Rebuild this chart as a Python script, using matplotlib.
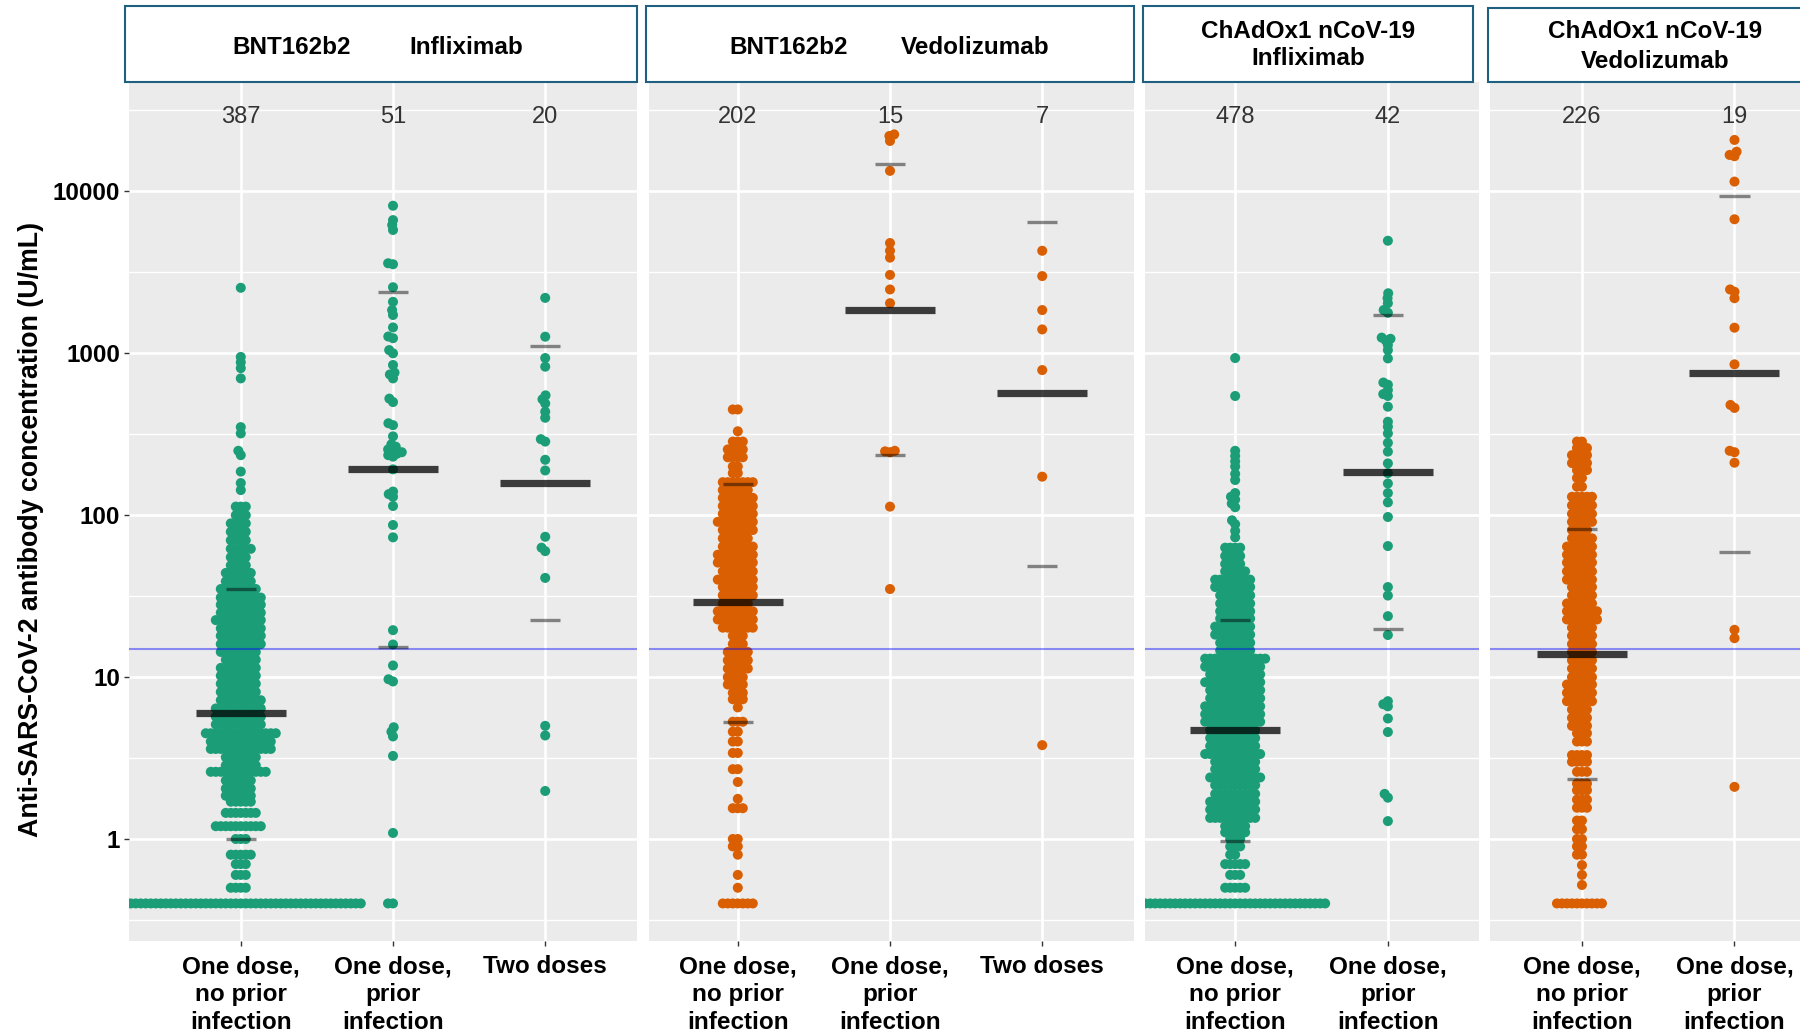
import numpy as np
import matplotlib
matplotlib.use("Agg")
import matplotlib.pyplot as plt
from matplotlib.patches import Rectangle
from matplotlib.ticker import FixedLocator, NullFormatter

plt.rcParams['font.family'] = ['Liberation Sans', 'DejaVu Sans']

# ---------------- data ----------------
VACCINES = ["BNT162b2", "BNT162b2", "ChAdOx1 nCoV-19", "ChAdOx1 nCoV-19"]
DRUGS = ["Infliximab", "Vedolizumab", "Infliximab", "Vedolizumab"]
GROUPS = ["One dose,\nno prior\ninfection", "One dose,\nprior\ninfection", "Two doses"]
N_LABELS = [[387, 51, 20], [202, 15, 7], [478, 42], [226, 19]]

MEDIANS = [[6.0, 192, 158], [28.9, 1860, 565], [4.72, 186], [13.9, 757]]
Q1 = [[1.0, 15.3, 22.6], [5.3, 234, 48.7], [0.97, 19.9], [2.34, 59]]
Q3 = [[35.2, 2377, 1103], [156, 14800, 6440], [22.6, 1714], [82, 9400]]
THRESHOLD = 15

# BNT162b2 / infliximab, one dose, no prior infection (value levels + counts)
bi_none_levels = [0.4, 0.5, 0.6, 0.7, 0.8, 1.0, 1.2, 1.45, 1.7, 1.85, 2.05, 2.3, 2.6, 2.85,
                  3.2, 3.6, 4.0, 4.5, 5.1, 5.7, 6.4, 7.2, 8.1, 9.1, 10.2, 11.4, 12.8, 14.3,
                  16, 18, 20, 22.5, 25, 28, 31, 35, 39, 44, 49, 55, 62, 70, 79, 89, 100, 113,
                  143, 158, 186, 235, 250, 320, 350, 700, 810, 880, 950, 2540]
bi_none_counts = [49, 4, 3, 3, 5, 3, 10, 7, 5, 6, 6, 6, 12, 7,
                  7, 13, 13, 15, 10, 10, 10, 9, 8, 8, 8, 8, 7, 8,
                  9, 9, 9, 10, 9, 9, 9, 8, 6, 6, 4, 4, 5, 4, 4, 4, 3, 3,
                  1, 1, 1, 1, 1, 1, 1, 1, 1, 1, 1, 1]
bi_prior = [8160, 6650, 6200, 5780, 3600, 3550, 2560, 2080, 1850, 1725, 1445, 1270, 1240,
            1047, 1000, 847, 760, 740, 700, 525, 500, 370, 360, 307, 274, 265, 255, 250,
            245, 240, 235, 230, 192, 140, 135, 130, 114, 87, 73, 19.5, 15.9, 11.8, 9.7,
            9.4, 4.9, 4.6, 4.3, 3.26, 1.09, 0.4, 0.4]
bi_two = [2200, 1267, 935, 827, 550, 520, 490, 436, 400, 295, 285, 220, 189, 73.6, 63, 60,
          41, 5.0, 4.36, 1.98]

# BNT162b2 / vedolizumab
bv_none_levels = [0.4, 0.5, 0.6, 0.8, 0.9, 1.0, 1.55, 1.77, 2.25, 2.7, 3.4, 4.0, 4.6, 5.3,
                  6.5, 7.3, 8, 9, 10, 11.3, 12.7, 14.3, 16, 18, 20.2, 22.7, 25.5, 28.5, 32,
                  36, 40, 45, 51, 57, 64, 72, 81, 91, 102, 114, 128, 143, 160, 182, 200, 228,
                  255, 285, 330, 450]
bv_none_counts = [7, 1, 1, 1, 2, 2, 3, 1, 1, 2, 2, 2, 2, 3,
                  1, 3, 3, 4, 4, 5, 5, 5, 3, 3, 7, 8, 8, 6, 7,
                  7, 8, 7, 8, 8, 7, 6, 7, 8, 7, 7, 7, 6, 7, 2, 2, 4,
                  4, 3, 1, 2]
bv_prior = [22500, 22000, 20500, 13400, 4800, 4300, 3900, 3050, 2480, 2040, 250, 248, 245,
            113, 35]
bv_two = [4300, 3000, 1850, 1405, 788, 173, 3.8]

# ChAdOx1 nCoV-19 / infliximab
ci_none_levels = [0.4, 0.5, 0.6, 0.7, 0.8, 0.9, 1.0, 1.1, 1.2, 1.35, 1.52, 1.7, 1.9, 2.15,
                  2.4, 2.7, 3.0, 3.35, 3.75, 4.2, 4.7, 5.3, 5.9, 6.6, 7.4, 8.3, 9.3, 10.4,
                  11.6, 13, 14.6, 16.3, 18.3, 20.5, 23, 25.5, 28.5, 32, 36, 40, 45, 50, 56,
                  63, 73, 80, 88, 93, 112, 118, 125, 130, 137, 165, 180, 200, 215, 232, 250,
                  545, 935]
ci_none_counts = [37, 5, 3, 5, 2, 3, 3, 5, 5, 10, 10, 10, 9, 9,
                  11, 9, 9, 12, 10, 10, 10, 12, 12, 12, 11, 11, 12, 11,
                  12, 13, 7, 7, 8, 8, 7, 7, 7, 7, 8, 8, 5, 4, 4,
                  4, 1, 1, 1, 1, 1, 1, 1, 1, 1, 1, 1, 1, 1, 1, 1,
                  1, 1]
ci_prior = [4960, 2350, 2190, 2040, 1850, 1780, 1250, 1230, 1200, 1125, 1047, 930, 660, 640,
            593, 560, 545, 468, 378, 352, 320, 280, 247, 209, 182, 157, 137, 120, 97.5,
            64.5, 36, 31.9, 23.8, 18.2, 7.1, 6.8, 6.6, 5.55, 4.58, 1.9, 1.8, 1.29]

# ChAdOx1 nCoV-19 / vedolizumab
cv_none_levels = [0.4, 0.52, 0.6, 0.69, 0.8, 0.9, 1.0, 1.15, 1.3, 1.56, 1.75, 2.0, 2.2, 2.6,
                  3.0, 3.3, 4.0, 4.5, 5.0, 5.6, 6.3, 7.1, 8, 9, 10, 11.3, 12.7, 14.3, 16, 18,
                  20.2, 22.7, 25.5, 28.5, 32, 36, 40, 45, 51, 57, 64, 72, 81, 91, 102, 115,
                  130, 150, 170, 190, 210, 235, 260, 285]
cv_none_counts = [10, 1, 1, 1, 2, 2, 2, 2, 2, 3, 3, 3, 3, 3,
                  4, 4, 3, 3, 4, 4, 4, 6, 6, 6, 5, 5, 5, 5, 5, 5,
                  5, 7, 7, 6, 5, 5, 6, 6, 6, 6, 6, 5, 4, 5, 5, 5,
                  5, 2, 2, 3, 4, 4, 3, 2]
cv_prior = [20800, 17600, 16800, 16500, 11500, 6730, 2480, 2400, 2190, 1440, 855, 480, 460,
            250, 245, 211, 19.6, 17.4, 2.1]

GREEN, ORANGE = "#1B9E77", "#D95F02"
PANEL_COLORS = [GREEN, ORANGE, GREEN, ORANGE]

panel_data = [
    [np.repeat(bi_none_levels, bi_none_counts), np.array(bi_prior), np.array(bi_two)],
    [np.repeat(bv_none_levels, bv_none_counts), np.array(bv_prior), np.array(bv_two)],
    [np.repeat(ci_none_levels, ci_none_counts), np.array(ci_prior)],
    [np.repeat(cv_none_levels, cv_none_counts), np.array(cv_prior)],
]

# ---------------- layout (pixels of the 1800x1035 canvas) ----------------
W, H = 1800, 1035
TOP, BOTTOM = 81.5, 941
PANEL_X = [(128.6, 637), (648.6, 1134), (1144.6, 1478.6), (1490, 1826)]
XLIMS = [(-0.737, 2.603), (-0.586, 2.603), (-0.593, 1.594), (-0.603, 1.6)]
STRIPS = [(125, 637, 5.7), (646, 1134, 5.7), (1143, 1473, 5.7), (1488, 1830, 8.5)]
LOGLIM = (-0.63, 4.679)
SPACING = 5.0   # swarm spacing, px
DOT = 52        # marker area, pt^2


def fx(px):
    return px / W


def fy(py):
    return 1 - py / H


def swarm_offsets(ypix, spacing):
    order = np.argsort(ypix, kind="stable")
    xs = np.zeros(len(ypix))
    pxs, pys = [], []
    for i in order:
        y = ypix[i]
        near = [(px, py) for px, py in zip(pxs, pys) if abs(py - y) < spacing]
        cands = [0.0]
        for px, py in near:
            dx = np.sqrt(spacing ** 2 - (py - y) ** 2)
            cands.extend([px - dx, px + dx])
        cands.sort(key=lambda c: (abs(c), c))
        for c in cands:
            if all((c - px) ** 2 + (y - py) ** 2 >= spacing ** 2 - 1e-6 for px, py in near):
                xs[i] = c
                break
        pxs.append(xs[i])
        pys.append(y)
    return xs


fig = plt.figure(figsize=(18, 10.35), dpi=100)
fig.patch.set_facecolor("white")

px_per_dec = (BOTTOM - TOP) / (LOGLIM[1] - LOGLIM[0])

for p in range(4):
    x0, x1 = PANEL_X[p]
    ax = fig.add_axes([fx(x0), fy(BOTTOM), (x1 - x0) / W, (BOTTOM - TOP) / H])
    ax.set_facecolor("#EBEBEB")
    for sp in ax.spines.values():
        sp.set_visible(False)
    ax.set_yscale("log")
    ax.set_ylim(10 ** LOGLIM[0], 10 ** LOGLIM[1])
    ax.set_xlim(*XLIMS[p])
    px_per_unit = (x1 - x0) / (XLIMS[p][1] - XLIMS[p][0])

    ax.yaxis.set_major_locator(FixedLocator([1, 10, 100, 1000, 10000]))
    ax.yaxis.set_minor_locator(FixedLocator([10 ** (k + 0.5) for k in range(-1, 5)]))
    ax.yaxis.set_minor_formatter(NullFormatter())
    ax.set_axisbelow(True)
    ax.grid(which="major", color="white", lw=1.9)
    ax.grid(which="minor", axis="y", color="white", lw=0.95)
    ax.tick_params(which="minor", left=False, bottom=False)

    ncat = len(panel_data[p])
    ax.set_xticks(range(ncat))
    ax.set_xticklabels(GROUPS[:ncat], fontsize=17.5, fontweight="bold", linespacing=1.28)
    ax.tick_params(axis="x", length=3.6, width=1, color="#333333", pad=6.5)
    if p == 0:
        ax.set_yticklabels(["1", "10", "100", "1000", "10000"], fontsize=17.5, fontweight="bold")
        ax.tick_params(axis="y", length=3.6, width=1, color="#333333", pad=2.5)
    else:
        ax.tick_params(axis="y", left=False, labelleft=False)

    for c, vals in enumerate(panel_data[p]):
        ypix = np.log10(vals) * px_per_dec
        off = swarm_offsets(ypix, SPACING) / px_per_unit
        ax.scatter(c + off, vals, s=DOT, color=PANEL_COLORS[p], edgecolors="none", zorder=3)
        ax.text(c, 28800, str(N_LABELS[p][c]), ha="center", va="center",
                fontsize=17, color="#333333")

    cats = np.arange(ncat)
    ax.hlines(MEDIANS[p], cats - 0.295, cats + 0.295, color="black", alpha=0.75, lw=5.2,
              zorder=5)
    ax.hlines(Q1[p], cats - 0.1, cats + 0.1, color="black", alpha=0.45, lw=2.4, zorder=5)
    ax.hlines(Q3[p], cats - 0.1, cats + 0.1, color="black", alpha=0.45, lw=2.4, zorder=5)
    ax.axhline(THRESHOLD, color="#0000FF", alpha=0.42, lw=1.5, zorder=4)

    # facet strip
    sx0, sx1, sy0 = STRIPS[p]
    fig.add_artist(Rectangle((fx(sx0), fy(TOP)), (sx1 - sx0) / W, (TOP - sy0) / H,
                             transform=fig.transFigure, facecolor="white",
                             edgecolor="#1F6080", lw=1.5))

# strip texts
kw = dict(ha="center", va="center", fontsize=17.5, fontweight="bold")
fig.text(fx(292), fy(47), VACCINES[0], **kw)
fig.text(fx(466), fy(47), DRUGS[0], **kw)
fig.text(fx(789), fy(47), VACCINES[1], **kw)
fig.text(fx(975), fy(47), DRUGS[1], **kw)
fig.text(fx(1308), fy(31), VACCINES[2], **kw)
fig.text(fx(1308), fy(59), DRUGS[2], **kw)
fig.text(fx(1655), fy(32), VACCINES[3], **kw)
fig.text(fx(1655), fy(61), DRUGS[3], **kw)

fig.text(fx(31), fy(529), "Anti-SARS-CoV-2 antibody concentration (U/mL)", rotation=90,
         ha="center", va="center", fontsize=19.3, fontweight="bold")

fig.savefig("out.png", dpi=100)
